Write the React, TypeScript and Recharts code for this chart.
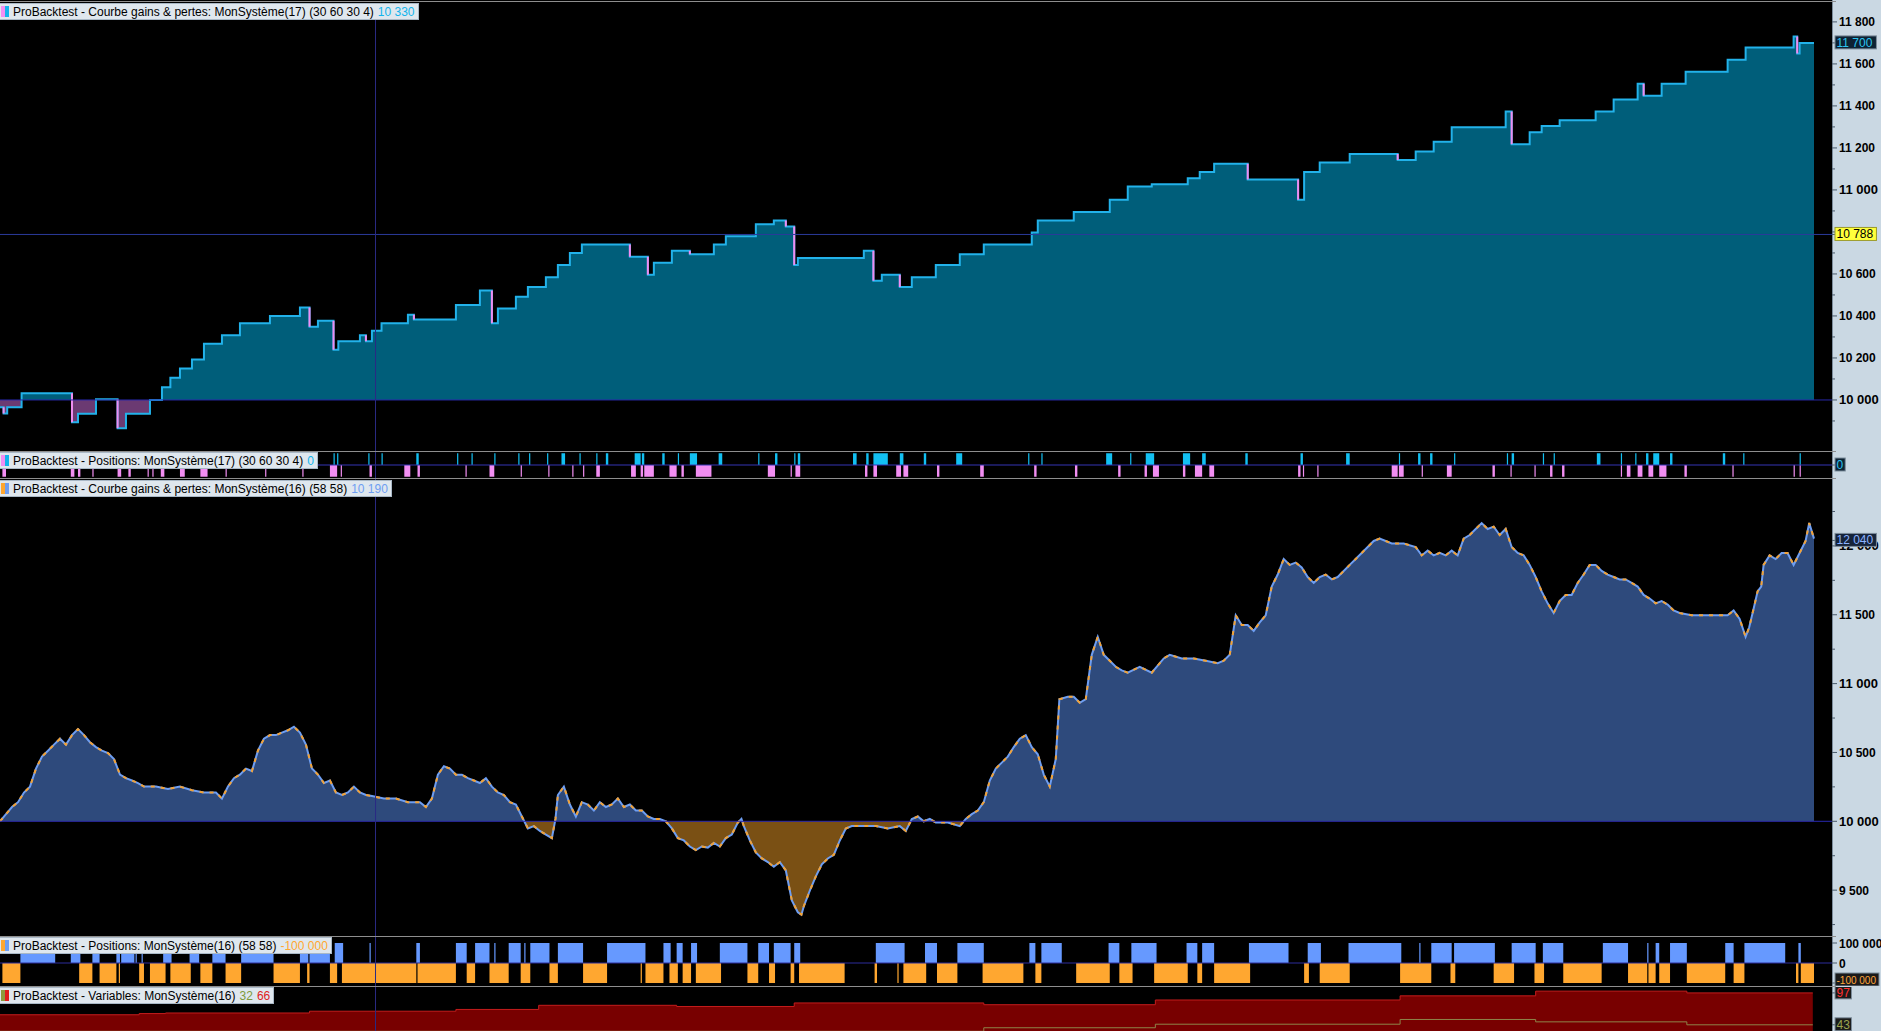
import React from "react";
import { ComposedChart, Area, Line, XAxis, YAxis, ReferenceLine } from "recharts";

const W = 1881;
const AXIS_W = 49;
const LAST_BAR = 1527; // bars visible in the window
const CURSOR_BAR = 313;
const FONT = "'Liberation Sans', Arial, sans-serif";

// MonSystème(17) : equity steps [bar, value]
const equity17: [number, number][] = [
  [0, 9965], [3, 9935], [6, 9965], [18, 10032], [60, 9894], [65, 9934], [80, 10003], [98, 9865], [105, 9934],
  [125, 10000], [135, 10060], [142, 10106], [150, 10150], [160, 10193], [170, 10268], [185, 10308], [200, 10365],
  [225, 10400], [250, 10440], [258, 10348], [265, 10377], [278, 10239], [282, 10279], [300, 10308], [305, 10279],
  [310, 10330], [318, 10365], [340, 10406], [345, 10383], [380, 10452], [400, 10521], [410, 10365], [415, 10435],
  [430, 10492], [440, 10538], [455, 10584], [465, 10642], [475, 10700], [485, 10740], [525, 10682], [540, 10596],
  [545, 10653], [560, 10711], [575, 10694], [595, 10740], [605, 10780], [630, 10837], [645, 10855], [655, 10826],
  [662, 10642], [665, 10676], [720, 10711], [728, 10567], [735, 10596], [750, 10538], [760, 10584], [780, 10642],
  [800, 10694], [820, 10740], [860, 10797], [865, 10855], [895, 10895], [925, 10953], [940, 11016], [960, 11027],
  [990, 11056], [1000, 11085], [1012, 11125], [1040, 11050], [1082, 10953], [1087, 11085], [1100, 11131],
  [1125, 11171], [1165, 11142], [1180, 11183], [1195, 11229], [1210, 11298], [1255, 11373], [1260, 11217],
  [1275, 11275], [1285, 11304], [1300, 11332], [1330, 11373], [1345, 11430], [1365, 11505], [1370, 11448],
  [1385, 11505], [1405, 11563], [1440, 11620], [1455, 11678], [1495, 11730], [1498, 11650], [1500, 11700], [1512, 11700],
];

// MonSystème(17) : positions [from bar, to bar]
const longs17: [number, number][] = [
  [278, 279], [281, 282], [307, 308], [318, 319], [347, 349], [381, 382], [393, 394], [412, 413], [432, 433], [441, 442],
  [456, 457], [468, 471], [483, 484], [497, 498], [505, 507], [529, 534], [535, 537], [552, 554], [565, 566], [575, 581],
  [599, 602], [632, 633], [646, 648], [662, 663], [665, 667], [711, 714], [722, 724], [728, 740], [750, 753], [770, 772],
  [797, 802], [857, 858], [868, 869], [922, 927], [942, 943], [955, 962], [986, 992], [1002, 1005], [1038, 1040],
  [1084, 1086], [1122, 1125], [1166, 1167], [1182, 1184], [1192, 1194], [1212, 1213], [1256, 1257], [1260, 1262],
  [1286, 1287], [1295, 1296], [1331, 1334], [1351, 1352], [1363, 1364], [1372, 1374], [1378, 1383], [1392, 1394],
  [1436, 1438], [1453, 1454], [1500, 1501],
];
const shorts17: [number, number][] = [
  [2, 5], [59, 62], [65, 67], [77, 78], [98, 101], [107, 109], [123, 124], [127, 128], [134, 137], [150, 154], [167, 173],
  [188, 189], [221, 222], [252, 253], [275, 281], [284, 285], [308, 310], [337, 342], [348, 350], [388, 389], [408, 412],
  [434, 435], [457, 458], [477, 478], [486, 487], [497, 500], [526, 530], [534, 536], [537, 545], [558, 564], [568, 570],
  [580, 593], [640, 646], [659, 660], [663, 667], [721, 723], [728, 731], [747, 751], [753, 757], [781, 783], [817, 820],
  [862, 864], [896, 898], [932, 934], [954, 956], [961, 966], [986, 988], [996, 1002], [1008, 1012], [1082, 1084],
  [1086, 1087], [1098, 1099], [1160, 1165], [1166, 1170], [1185, 1186], [1206, 1210], [1244, 1246], [1259, 1260],
  [1279, 1280], [1292, 1294], [1302, 1304], [1351, 1352], [1356, 1359], [1365, 1369], [1374, 1378], [1383, 1389],
  [1404, 1406], [1444, 1445], [1495, 1496], [1500, 1501],
];

// MonSystème(16) : equity [bar, value]
const equity16: [number, number][] = [
  [0, 10000], [5, 10052], [10, 10104], [15, 10139], [20, 10209], [25, 10252], [30, 10383], [35, 10470], [40, 10513],
  [45, 10557], [50, 10600], [55, 10557], [60, 10626], [65, 10670], [70, 10626], [75, 10574], [80, 10539], [85, 10513],
  [90, 10496], [95, 10452], [100, 10339], [105, 10313], [110, 10296], [115, 10278], [120, 10252], [130, 10252],
  [140, 10235], [150, 10252], [160, 10226], [170, 10209], [180, 10209], [185, 10165], [190, 10252], [195, 10313],
  [200, 10339], [205, 10383], [210, 10365], [215, 10513], [220, 10600], [225, 10626], [230, 10626], [235, 10644],
  [240, 10661], [245, 10687], [250, 10644], [255, 10557], [260, 10383], [265, 10339], [270, 10278], [275, 10296],
  [280, 10209], [285, 10191], [290, 10209], [295, 10252], [300, 10209], [305, 10191], [310, 10183], [320, 10165],
  [330, 10165], [340, 10139], [350, 10139], [355, 10104], [360, 10165], [365, 10339], [370, 10400], [375, 10383],
  [380, 10339], [385, 10339], [390, 10313], [395, 10296], [400, 10278], [405, 10313], [410, 10252], [415, 10209],
  [420, 10191], [425, 10139], [430, 10122], [435, 10035], [440, 9948], [445, 9965], [450, 9930], [455, 9904],
  [460, 9878], [463, 10017], [465, 10191], [470, 10252], [475, 10122], [480, 10035], [485, 10139], [490, 10122],
  [495, 10078], [500, 10139], [505, 10104], [510, 10122], [515, 10165], [520, 10104], [525, 10122], [530, 10078],
  [535, 10078], [540, 10035], [545, 10017], [550, 10017], [555, 10000], [560, 9948], [565, 9878], [570, 9861],
  [575, 9817], [580, 9791], [585, 9817], [590, 9809], [595, 9843], [600, 9817], [605, 9878], [610, 9904], [615, 9991],
  [618, 10017], [620, 9965], [625, 9861], [630, 9774], [635, 9730], [640, 9704], [645, 9670], [650, 9704], [655, 9643],
  [660, 9426], [665, 9339], [668, 9322], [670, 9383], [675, 9496], [680, 9600], [685, 9687], [690, 9730], [695, 9756],
  [700, 9861], [705, 9948], [710, 9965], [720, 9965], [730, 9965], [740, 9948], [750, 9965], [755, 9930], [760, 10017],
  [765, 10035], [770, 10000], [775, 10017], [780, 9991], [790, 9991], [800, 9965], [805, 10017], [810, 10052],
  [815, 10078], [820, 10139], [825, 10296], [830, 10383], [835, 10426], [840, 10470], [845, 10539], [850, 10600],
  [855, 10626], [860, 10539], [865, 10487], [870, 10339], [875, 10252], [880, 10452], [883, 10887], [890, 10904],
  [895, 10904], [900, 10861], [905, 10887], [910, 11209], [915, 11340], [920, 11209], [925, 11166], [930, 11122],
  [935, 11096], [940, 11079], [950, 11122], [960, 11079], [970, 11183], [975, 11209], [985, 11183], [995, 11183],
  [1005, 11166], [1015, 11148], [1020, 11166], [1025, 11209], [1030, 11496], [1035, 11426], [1040, 11426],
  [1045, 11383], [1050, 11444], [1055, 11496], [1060, 11705], [1065, 11792], [1070, 11905], [1075, 11862],
  [1080, 11879], [1085, 11844], [1090, 11774], [1095, 11731], [1100, 11774], [1105, 11792], [1110, 11757],
  [1115, 11774], [1120, 11818], [1125, 11862], [1130, 11905], [1135, 11949], [1140, 11992], [1145, 12036],
  [1150, 12053], [1155, 12036], [1160, 12018], [1170, 12018], [1180, 11992], [1185, 11931], [1190, 11966],
  [1195, 11931], [1200, 11949], [1205, 11931], [1210, 11966], [1215, 11931], [1220, 12053], [1225, 12079],
  [1230, 12123], [1235, 12166], [1240, 12123], [1245, 12140], [1250, 12079], [1255, 12123], [1260, 11992],
  [1265, 11949], [1270, 11931], [1275, 11862], [1280, 11774], [1285, 11670], [1290, 11583], [1295, 11513],
  [1300, 11600], [1305, 11644], [1310, 11644], [1315, 11731], [1320, 11792], [1325, 11862], [1330, 11862],
  [1335, 11818], [1340, 11792], [1345, 11774], [1350, 11757], [1355, 11757], [1360, 11731], [1365, 11705],
  [1370, 11644], [1375, 11618], [1380, 11583], [1385, 11600], [1390, 11574], [1395, 11531], [1400, 11513],
  [1410, 11496], [1420, 11496], [1430, 11496], [1440, 11496], [1445, 11531], [1450, 11470], [1455, 11340],
  [1458, 11409], [1462, 11557], [1465, 11670], [1468, 11705], [1470, 11862], [1475, 11931], [1480, 11905],
  [1485, 11949], [1490, 11949], [1495, 11862], [1500, 11949], [1505, 12036], [1508, 12166], [1512, 12053],
];

// MonSystème(16) : positions [from bar, to bar]
const longs16: [number, number][] = [
  [17, 46], [59, 67], [77, 83], [97, 100], [101, 112], [113, 114], [118, 119], [136, 143], [158, 166], [177, 188],
  [201, 228], [250, 257], [258, 275], [279, 286], [308, 309], [347, 350], [380, 389], [396, 408], [412, 413], [424, 434],
  [437, 438], [442, 458], [465, 486], [506, 538], [553, 559], [564, 569], [576, 581], [600, 623], [632, 641], [645, 659],
  [662, 667], [730, 754], [771, 781], [798, 820], [858, 863], [868, 885], [924, 933], [943, 964], [989, 998], [1002, 1012],
  [1041, 1074], [1090, 1101], [1124, 1168], [1183, 1184], [1193, 1210], [1212, 1246], [1260, 1280], [1286, 1303],
  [1336, 1357], [1373, 1374], [1380, 1383], [1392, 1406], [1438, 1445], [1454, 1488], [1499, 1501],
];
const shorts16: [number, number][] = [
  [2, 17], [66, 77], [83, 97], [99, 100], [116, 120], [125, 138], [142, 159], [167, 177], [188, 201], [228, 250],
  [256, 258], [275, 281], [285, 347], [348, 380], [389, 396], [408, 424], [434, 442], [458, 465], [486, 506], [534, 535],
  [538, 553], [558, 565], [569, 576], [580, 601], [623, 632], [641, 646], [659, 662], [666, 704], [729, 731], [748, 749],
  [753, 772], [781, 798], [819, 853], [863, 868], [897, 925], [933, 944], [962, 990], [998, 1002], [1012, 1042],
  [1087, 1091], [1100, 1125], [1167, 1193], [1209, 1213], [1245, 1262], [1279, 1287], [1303, 1335], [1357, 1373],
  [1374, 1380], [1383, 1392], [1406, 1438], [1445, 1454], [1497, 1499], [1501, 1512],
];

// MonSystème(16) : variables, steps [bar, value]
const varRed: [number, number][] = [
  [0, 60], [116, 62], [138, 63], [258, 66], [380, 69], [449, 76], [564, 74], [662, 80], [820, 77], [963, 85],
  [1167, 92], [1280, 100], [1406, 97], [1511, 97],
];
const varOlive: [number, number][] = [
  [0, 32], [820, 38], [963, 44], [1167, 52], [1280, 48], [1406, 43], [1511, 43],
];

// axis ticks
const ticksTop = [9900, 10000, 10100, 10200, 10300, 10400, 10500, 10600, 10700, 10800, 10900, 11000, 11100, 11200, 11300, 11400, 11500, 11600, 11800, 10788, 11700];
const ticksMid = [9250, 9500, 9750, 10000, 10250, 10500, 10750, 11000, 11250, 11500, 11750, 12000, 12250, 12040];
const ticksPos16 = [100000, 0, -100000];

type Tag = { bg: string; color: string; border: string; dy?: number };

const fmt = (v: number) =>
  (v < 0 ? "-" : "") + String(Math.abs(Math.round(v))).replace(/\B(?=(\d{3})+(?!\d))/g, " ");

function makeTick(labelStep: number, bigStep: number, tags: Record<string, Tag> = {}) {
  return function Tick(props: any) {
    const { x, payload } = props;
    const v = payload.value as number;
    const txt = fmt(v);
    const tag = tags[String(v)];
    if (tag) {
      const y = props.y + (tag.dy ?? 0);
      const fs = txt.length > 6 ? 10 : 12;
      const w = Math.min(txt.length * fs * 0.52 + 4, 1879 - x - 3);
      return (
        <g>
          <line x1={x} x2={x + 4} y1={props.y} y2={props.y} stroke="#4a5a6a" />
          <rect x={x + 3} y={y - 7} width={w} height={13} fill={tag.bg} stroke={tag.border} />
          <text x={x + 4.5} y={y + 4} fill={tag.color} fontSize={fs} fontFamily={FONT}>{txt}</text>
        </g>
      );
    }
    const { y } = props;
    const labelled = labelStep > 0 && v % labelStep === 0;
    const big = bigStep > 0 && v % bigStep === 0;
    return (
      <g>
        <line x1={x} x2={x + (labelled ? 5 : 3)} y1={y} y2={y} stroke="#4a5a6a" />
        {labelled && (
          <text x={x + 7} y={y + 4.5} fill="#000" fontSize={big ? 13 : 12} fontWeight="bold" fontFamily={FONT}>
            {txt}
          </text>
        )}
      </g>
    );
  };
}

const tickTop = makeTick(200, 1000, {
  "10788": { bg: "#ffff3c", color: "#000", border: "#9c9c2c" },
  "11700": { bg: "#0d2233", color: "#2cc4f0", border: "#7d8d9c" },
});
const tickMid = makeTick(500, 1000, { "12040": { bg: "#16243a", color: "#8cb2ff", border: "#7d8d9c" } });
const tickPos17 = makeTick(0, 0, { "0": { bg: "#0d2233", color: "#2cc4f0", border: "#7d8d9c" } });
const tickPos16 = makeTick(100000, 0, { "-100000": { bg: "#1a1a1a", color: "#ffa63a", border: "#7d8d9c", dy: -3 } });
const tickVar = makeTick(0, 0, {
  "97": { bg: "#1a1a1a", color: "#ff3030", border: "#7d8d9c" },
  "43": { bg: "#1a1a1a", color: "#9aa44e", border: "#7d8d9c" },
});

// equity rows, drops drawn in pink
const rows17: { x: number; eq: number; pk: number | null }[] = [];
equity17.forEach(([x, v], i) => {
  const prev = i > 0 ? equity17[i - 1][1] : v;
  if (v < prev) {
    rows17.push({ x, eq: prev, pk: prev });
    rows17.push({ x, eq: v, pk: v });
    rows17.push({ x, eq: v, pk: null });
  } else rows17.push({ x, eq: v, pk: null });
});
const rows16 = equity16.map(([x, v]) => ({ x, eq: v }));

const splitOffset = (vals: number[], base: number) => {
  const max = Math.max(...vals, base);
  const min = Math.min(...vals, base);
  return (max - base) / (max - min);
};
const off17 = splitOffset(equity17.map((d) => d[1]), 10000);
const off16 = splitOffset(equity16.map((d) => d[1]), 10000);

function positionRows(longs: [number, number][], shorts: [number, number][], size: number) {
  const xs = new Set<number>([0, LAST_BAR]);
  [...longs, ...shorts].forEach(([a, b]) => {
    xs.add(a);
    xs.add(b);
  });
  return [...xs]
    .sort((a, b) => a - b)
    .map((x) => ({
      x,
      L: longs.some(([a, b]) => x >= a && x < b) ? size : 0,
      S: shorts.some(([a, b]) => x >= a && x < b) ? -size : 0,
    }));
}
const pos17 = positionRows(longs17, shorts17, 1);
const pos16 = positionRows(longs16, shorts16, 100000);

const stepAt = (s: [number, number][], x: number) => {
  let v: number | null = null;
  s.forEach(([bx, bv]) => {
    if (bx <= x) v = bv;
  });
  return v;
};
const varRows = [...new Set([...varRed, ...varOlive].map((d) => d[0]))]
  .sort((a, b) => a - b)
  .map((x) => ({ x, red: stepAt(varRed, x), olive: stepAt(varOlive, x) }));

const MARGIN = { top: 0, right: 0, bottom: 0, left: 0 };

function Header({ top, chips, label, values }: { top: number; chips: [string, string]; label: string; values: [string, string][] }) {
  return (
    <div
      style={{
        position: "absolute", left: 0, top, height: 15, display: "flex", alignItems: "center",
        background: "#dfe7ee", border: "1px solid #a9b8c6", borderLeft: "none", font: `12px ${FONT}`,
        color: "#000", whiteSpace: "nowrap", paddingRight: 3, zIndex: 5,
      }}
    >
      <span style={{ width: 4, height: 11, background: chips[0], marginLeft: 1 }} />
      <span style={{ width: 4, height: 11, background: chips[1], marginRight: 4 }} />
      <span>{label}</span>
      {values.map(([t, c], i) => (
        <span key={i} style={{ color: c, marginLeft: 4 }}>{t}</span>
      ))}
    </div>
  );
}

const hline = (y: number) => (
  <div key={y} style={{ position: "absolute", left: 0, top: y, width: 1836, height: 1, background: "#8e8e8e" }} />
);

export default function App() {
  const yAxisProps = {
    orientation: "right" as const, width: AXIS_W, interval: 0 as const, tickLine: false,
    axisLine: false, tickSize: 0, tickMargin: 0, allowDataOverflow: true,
  };
  const xAxis = <XAxis type="number" dataKey="x" domain={[0, LAST_BAR]} hide allowDataOverflow />;
  const cursor = <ReferenceLine x={CURSOR_BAR} stroke="#2a2a84" />;

  return (
    <div style={{ position: "absolute", left: 0, top: 0, width: W, height: 1031, background: "#000", overflow: "hidden" }}>
      <div style={{ position: "absolute", left: 1832, top: 0, width: 49, height: 1031, background: "#cad8e3", borderLeft: "1px solid #7d8d9c", boxSizing: "border-box" }} />
      {[1, 451, 478, 936, 986].map(hline)}

      <div style={{ position: "absolute", left: 0, top: 3 }}>
        <ComposedChart width={W} height={448} data={rows17} margin={MARGIN}>
          <defs>
            <linearGradient id="g17" x1="0" y1="0" x2="0" y2="1">
              <stop offset={off17} stopColor="#005e7a" />
              <stop offset={off17} stopColor="#6b3a72" />
            </linearGradient>
          </defs>
          {xAxis}
          <YAxis {...yAxisProps} domain={[9757, 11890]} ticks={ticksTop} tick={tickTop} />
          <Area type="stepAfter" dataKey="eq" baseValue={10000} fill="url(#g17)" fillOpacity={1} stroke="#22b2ea" strokeWidth={2} isAnimationActive={false} />
          <Line type="linear" dataKey="pk" stroke="#f08cf0" strokeWidth={2} dot={false} connectNulls={false} isAnimationActive={false} />
          <ReferenceLine y={10000} stroke="#2828a8" />
          <ReferenceLine y={10788} stroke="#2a3a9a" />
          {cursor}
        </ComposedChart>
      </div>

      <div style={{ position: "absolute", left: 0, top: 452 }}>
        <ComposedChart width={W} height={26} data={pos17} margin={MARGIN}>
          {xAxis}
          <YAxis {...yAxisProps} domain={[-1.1, 1.1]} ticks={[0]} tick={tickPos17} />
          <Area type="stepAfter" dataKey="L" fill="#12c0f2" fillOpacity={1} stroke="none" isAnimationActive={false} />
          <Area type="stepAfter" dataKey="S" fill="#f28ef2" fillOpacity={1} stroke="none" isAnimationActive={false} />
          <ReferenceLine y={0} stroke="#3434b4" />
          {cursor}
        </ComposedChart>
      </div>

      <div style={{ position: "absolute", left: 0, top: 479 }}>
        <ComposedChart width={W} height={457} data={rows16} margin={MARGIN}>
          <defs>
            <linearGradient id="g16" x1="0" y1="0" x2="0" y2="1">
              <stop offset={off16} stopColor="#2e4a7c" />
              <stop offset={off16} stopColor="#7a5014" />
            </linearGradient>
          </defs>
          {xAxis}
          <YAxis {...yAxisProps} domain={[9167, 12486]} ticks={ticksMid} tick={tickMid} />
          <Area type="linear" dataKey="eq" baseValue={10000} fill="url(#g16)" fillOpacity={1} stroke="none" isAnimationActive={false} />
          <Line type="linear" dataKey="eq" stroke="#6e9ef2" strokeWidth={2} dot={false} isAnimationActive={false} />
          <Line type="linear" dataKey="eq" stroke="#f2a236" strokeWidth={2} strokeDasharray="4 6" dot={false} isAnimationActive={false} />
          <ReferenceLine y={10000} stroke="#2828b0" />
          {cursor}
        </ComposedChart>
      </div>

      <div style={{ position: "absolute", left: 0, top: 937 }}>
        <ComposedChart width={W} height={49} data={pos16} margin={MARGIN}>
          {xAxis}
          <YAxis {...yAxisProps} domain={[-115000, 130000]} ticks={ticksPos16} tick={tickPos16} />
          <Area type="stepAfter" dataKey="L" fill="#6699ff" fillOpacity={1} stroke="none" isAnimationActive={false} />
          <Area type="stepAfter" dataKey="S" fill="#ffa730" fillOpacity={1} stroke="none" isAnimationActive={false} />
          <ReferenceLine y={0} stroke="#2c2c9c" />
          {cursor}
        </ComposedChart>
      </div>

      <div style={{ position: "absolute", left: 0, top: 987 }}>
        <ComposedChart width={W} height={44} data={varRows} margin={MARGIN}>
          {xAxis}
          <YAxis {...yAxisProps} domain={[32.5, 107]} ticks={[97, 43]} tick={tickVar} />
          <Area type="stepAfter" dataKey="red" fill="#780000" fillOpacity={1} stroke="#c41c1c" strokeWidth={1} isAnimationActive={false} />
          <Line type="stepAfter" dataKey="olive" stroke="#8e8448" strokeWidth={1} dot={false} isAnimationActive={false} />
          {cursor}
        </ComposedChart>
      </div>

      <Header top={3} chips={["#f28ef2", "#12b4ec"]} label="ProBacktest - Courbe gains & pertes: MonSystème(17) (30 60 30 4)" values={[["10 330", "#12b4ec"]]} />
      <Header top={452} chips={["#f28ef2", "#12b4ec"]} label="ProBacktest - Positions: MonSystème(17) (30 60 30 4)" values={[["0", "#12b4ec"]]} />
      <Header top={480} chips={["#ffa730", "#6e9ef2"]} label="ProBacktest - Courbe gains & pertes: MonSystème(16) (58 58)" values={[["10 190", "#6e9ef2"]]} />
      <Header top={937} chips={["#ffa730", "#6e9ef2"]} label="ProBacktest - Positions: MonSystème(16) (58 58)" values={[["-100 000", "#ffa730"]]} />
      <Header top={987} chips={["#8e9a3c", "#e01c1c"]} label="ProBacktest - Variables: MonSystème(16)" values={[["32", "#7e9a3c"], ["66", "#e01c1c"]]} />
    </div>
  );
}
